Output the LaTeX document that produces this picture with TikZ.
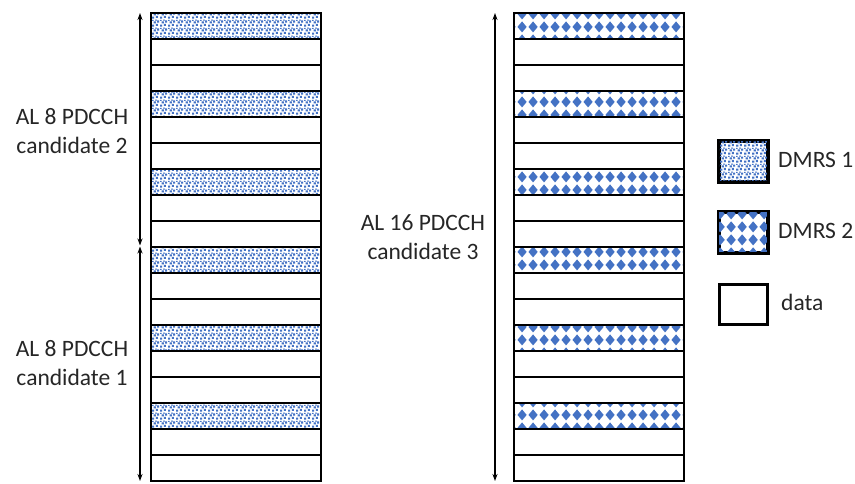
\documentclass[tikz,border=0pt]{standalone}
\usepackage{fontspec}
\setmainfont{Carlito}
\usetikzlibrary{patterns,arrows.meta}
\definecolor{dmrsblue}{HTML}{4472C4}
\definecolor{txt}{HTML}{262626}
\pgfdeclarepatternformonly{dmrsdots}{\pgfqpoint{0pt}{0pt}}{\pgfqpoint{8pt}{8pt}}{\pgfqpoint{8pt}{8pt}}{%
  \pgfpathrectangle{\pgfqpoint{0.2pt}{0.3pt}}{\pgfqpoint{2.3pt}{2.3pt}}%
  \pgfpathrectangle{\pgfqpoint{4.2pt}{1.1pt}}{\pgfqpoint{2.3pt}{2.3pt}}%
  \pgfpathrectangle{\pgfqpoint{1.9pt}{3.9pt}}{\pgfqpoint{2.3pt}{2.3pt}}%
  \pgfpathrectangle{\pgfqpoint{5.7pt}{4.8pt}}{\pgfqpoint{2.2pt}{2.3pt}}%
  \pgfpathrectangle{\pgfqpoint{0.0pt}{6.7pt}}{\pgfqpoint{1.8pt}{1.2pt}}%
  \pgfpathrectangle{\pgfqpoint{3.5pt}{6.9pt}}{\pgfqpoint{2.0pt}{1.1pt}}%
  \pgfusepath{fill}}
\pgfdeclarepatternformonly{dmrsdiam}{\pgfqpoint{0pt}{0pt}}{\pgfqpoint{11pt}{12.5pt}}{\pgfqpoint{11pt}{12.5pt}}{%
  \pgfpathmoveto{\pgfqpoint{5.5pt}{0.6pt}}%
  \pgfpathlineto{\pgfqpoint{10.5pt}{6.25pt}}%
  \pgfpathlineto{\pgfqpoint{5.5pt}{11.9pt}}%
  \pgfpathlineto{\pgfqpoint{0.5pt}{6.25pt}}%
  \pgfpathclose
  \pgfusepath{fill}}
\tikzset{
  rowbox/.style={draw=black, line width=2.3pt, minimum width=170pt, minimum height=26pt, inner sep=0pt, outer sep=0pt, anchor=north west, fill=white},
  dmrsA/.style={pattern=dmrsdots, pattern color=dmrsblue},
  dmrsB/.style={pattern=dmrsdiam, pattern color=dmrsblue},
  legbox/.style={draw=black, line width=2.6pt, minimum width=48pt, minimum height=40pt, inner sep=0pt, anchor=north west, fill=white},
  lbl/.style={text=txt, font=\fontsize{23.5}{29}\selectfont, align=center, inner sep=0pt},
  legtxt/.style={text=txt, font=\fontsize{23.5}{29}\selectfont, anchor=west, inner sep=0pt},
  span/.style={draw=black, line width=1.1pt, {Stealth[length=7pt,width=5pt]}-{Stealth[length=7pt,width=5pt]}}
}
\begin{document}
\begin{tikzpicture}[x=1pt,y=-1pt]
\useasboundingbox (0,0) rectangle (855,483);
% columns
\foreach \i in {0,...,17}{
  \pgfmathtruncatemacro{\m}{mod(\i,3)}
  \ifnum\m=0
    \node[rowbox] (L\i) at (151,13+26*\i) {};
    \fill[dmrsA] (L\i.north west) rectangle (L\i.south east);
    \draw[line width=2.3pt] (L\i.north west) rectangle (L\i.south east);
    \node[rowbox] (R\i) at (514,13+26*\i) {};
    \fill[dmrsB] (R\i.north west) rectangle (R\i.south east);
    \draw[line width=2.3pt] (R\i.north west) rectangle (R\i.south east);
  \else
    \node[rowbox] (L\i) at (151,13+26*\i) {};
    \node[rowbox] (R\i) at (514,13+26*\i) {};
  \fi
}
% arrows
\coordinate (a1t) at (140,13);
\coordinate (a1b) at (140,245.5);
\coordinate (a2t) at (140,246.5);
\coordinate (a2b) at (140,481);
\coordinate (a3t) at (495,13);
\coordinate (a3b) at (495,481);
\draw[span] (a1t) -- (a1b);
\draw[span] (a2t) -- (a2b);
\draw[span] (a3t) -- (a3b);
% labels
\node[lbl] (c2) at (72,131) {AL 8 PDCCH\\candidate 2};
\node[lbl] (c1) at (72,363) {AL 8 PDCCH\\candidate 1};
\node[lbl] (c3) at (423,237) {AL 16 PDCCH\\candidate 3};
% legend
\node[legbox] (k1) at (718,140) {};
\fill[dmrsA] (k1.north west) rectangle (k1.south east);
\draw[line width=2.6pt] (k1.north west) rectangle (k1.south east);
\node[legbox] (k2) at (718,211) {};
\fill[dmrsB] (k2.north west) rectangle (k2.south east);
\draw[line width=2.6pt] (k2.north west) rectangle (k2.south east);
\node[legbox] (k3) at (718,283) {};
\node[legtxt] (t1) at (778,160) {DMRS 1};
\node[legtxt] (t2) at (778,231) {DMRS 2};
\node[legtxt] (t3) at (781,302) {data};
\end{tikzpicture}
\end{document}
